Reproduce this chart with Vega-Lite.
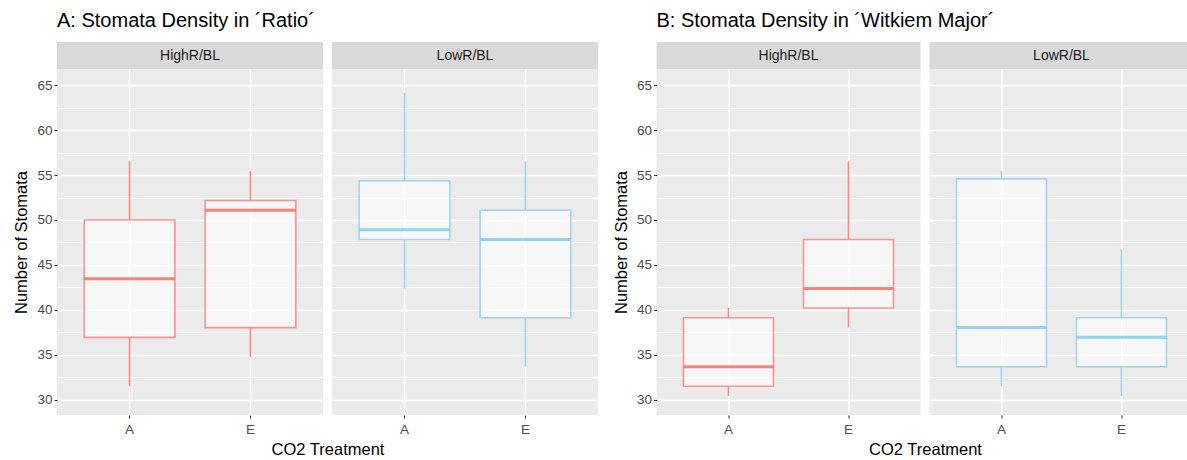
{
  "$schema": "https://vega.github.io/schema/vega-lite/v6.json",
  "background": "white",
  "padding": {"left": 13, "top": 11, "right": 0, "bottom": 0},
  "datasets": {
    "boxes": [
      {"chart": "A", "panel": "HighR/BL", "co2": "A", "lo": 31.52, "q1": 36.96, "med": 43.48, "q3": 50.0, "hi": 56.52},
      {"chart": "A", "panel": "HighR/BL", "co2": "E", "lo": 34.78, "q1": 38.04, "med": 51.09, "q3": 52.17, "hi": 55.43},
      {"chart": "A", "panel": "LowR/BL", "co2": "A", "lo": 42.39, "q1": 47.83, "med": 48.91, "q3": 54.35, "hi": 64.13},
      {"chart": "A", "panel": "LowR/BL", "co2": "E", "lo": 33.7, "q1": 39.13, "med": 47.83, "q3": 51.09, "hi": 56.52},
      {"chart": "B", "panel": "HighR/BL", "co2": "A", "lo": 30.43, "q1": 31.52, "med": 33.7, "q3": 39.13, "hi": 40.22},
      {"chart": "B", "panel": "HighR/BL", "co2": "E", "lo": 38.04, "q1": 40.22, "med": 42.39, "q3": 47.83, "hi": 56.52},
      {"chart": "B", "panel": "LowR/BL", "co2": "A", "lo": 31.52, "q1": 33.7, "med": 38.04, "q3": 54.57, "hi": 55.43},
      {"chart": "B", "panel": "LowR/BL", "co2": "E", "lo": 30.43, "q1": 33.7, "med": 36.96, "q3": 39.13, "hi": 46.74}
    ]
  },
  "spacing": 14.5,
  "hconcat": [
    {
      "title": {"text": "A: Stomata Density in ´Ratio´"},
      "columns": 2,
      "spacing": {"row": 0, "column": 9},
      "bounds": "flush",
      "concat": [
        {"width": 266, "height": 27, "data": {"values": [{"label": "HighR/BL"}]}, "view": {"fill": "#D9D9D9", "stroke": null},
         "mark": {"type": "text", "font": "Liberation Sans", "fontSize": 14, "color": "#1A1A1A", "baseline": "middle"},
         "encoding": {"text": {"field": "label", "type": "nominal"}}},
        {"width": 266, "height": 27, "data": {"values": [{"label": "LowR/BL"}]}, "view": {"fill": "#D9D9D9", "stroke": null},
         "mark": {"type": "text", "font": "Liberation Sans", "fontSize": 14, "color": "#1A1A1A", "baseline": "middle"},
         "encoding": {"text": {"field": "label", "type": "nominal"}}},
        {
          "width": 266, "height": 346,
          "data": {"name": "boxes"},
          "transform": [{"filter": "datum.chart === 'A' && datum.panel === 'HighR/BL'"}],
          "view": {"fill": "#EBEBEB", "stroke": null},
          "encoding": {"x": {"field": "co2", "type": "nominal", "scale": {"domain": ["A", "E"], "paddingInner": 0.25, "paddingOuter": 0.225},
            "axis": {"title": "CO2 Treatment", "titleX": 270.5, "titleY": 39, "titleBaseline": "alphabetic", "titleAlign": "center", "grid": true, "gridWidth": 1.4, "bandPosition": 0.5, "labelAngle": 0, "labelPadding": 4}}},
          "layer": [
            {"mark": {"type": "rule", "strokeWidth": 1.6, "strokeOpacity": 0.85}, "encoding": {
              "y": {"field": "q3", "type": "quantitative", "scale": {"domain": [28.33, 66.78], "nice": false, "zero": false},
                "axis": {"title": "Number of Stomata", "tickCount": 40, "values": [30, 32.5, 35, 37.5, 40, 42.5, 45, 47.5, 50, 52.5, 55, 57.5, 60, 62.5, 65], "labelOverlap": false, "labelExpr": "datum.value % 5 === 0 ? '' + datum.value : ''", "gridWidth": {"condition": {"test": "datum.value % 5 === 0", "value": 1.4}, "value": 0.8}, "tickOpacity": {"condition": {"test": "datum.value % 5 === 0", "value": 1}, "value": 0}}},
              "y2": {"field": "hi"},
              "color": {"field": "panel", "type": "nominal", "scale": {"domain": ["HighR/BL", "LowR/BL"], "range": ["#F8766D", "#87CEEB"]}, "legend": null}}},
            {"mark": {"type": "rule", "strokeWidth": 1.6, "strokeOpacity": 0.85}, "encoding": {
              "y": {"field": "lo", "type": "quantitative"}, "y2": {"field": "q1"},
              "color": {"field": "panel", "type": "nominal", "legend": null}}},
            {"mark": {"type": "bar", "fill": "#FFFFFF", "fillOpacity": 0.6, "strokeWidth": 1.6, "strokeOpacity": 0.75}, "encoding": {
              "y": {"field": "q1", "type": "quantitative"}, "y2": {"field": "q3"},
              "stroke": {"field": "panel", "type": "nominal", "scale": {"domain": ["HighR/BL", "LowR/BL"], "range": ["#F8766D", "#87CEEB"]}, "legend": null}}},
            {"mark": {"type": "tick", "thickness": 3, "size": 91, "opacity": 0.9}, "encoding": {
              "y": {"field": "med", "type": "quantitative"},
              "color": {"field": "panel", "type": "nominal", "legend": null}}}
          ]
        },
        {
          "width": 266, "height": 346,
          "data": {"name": "boxes"},
          "transform": [{"filter": "datum.chart === 'A' && datum.panel === 'LowR/BL'"}],
          "view": {"fill": "#EBEBEB", "stroke": null},
          "encoding": {"x": {"field": "co2", "type": "nominal", "scale": {"domain": ["A", "E"], "paddingInner": 0.25, "paddingOuter": 0.225},
            "axis": {"title": null, "grid": true, "gridWidth": 1.4, "bandPosition": 0.5, "labelAngle": 0, "labelPadding": 4}}},
          "layer": [
            {"mark": {"type": "rule", "strokeWidth": 1.6, "strokeOpacity": 0.85}, "encoding": {
              "y": {"field": "q3", "type": "quantitative", "scale": {"domain": [28.33, 66.78], "nice": false, "zero": false},
                "axis": {"title": null, "labels": false, "ticks": false, "tickCount": 40, "values": [30, 32.5, 35, 37.5, 40, 42.5, 45, 47.5, 50, 52.5, 55, 57.5, 60, 62.5, 65], "gridWidth": {"condition": {"test": "datum.value % 5 === 0", "value": 1.4}, "value": 0.8}}},
              "y2": {"field": "hi"},
              "color": {"field": "panel", "type": "nominal", "scale": {"domain": ["HighR/BL", "LowR/BL"], "range": ["#F8766D", "#87CEEB"]}, "legend": null}}},
            {"mark": {"type": "rule", "strokeWidth": 1.6, "strokeOpacity": 0.85}, "encoding": {
              "y": {"field": "lo", "type": "quantitative"}, "y2": {"field": "q1"},
              "color": {"field": "panel", "type": "nominal", "legend": null}}},
            {"mark": {"type": "bar", "fill": "#FFFFFF", "fillOpacity": 0.6, "strokeWidth": 1.6, "strokeOpacity": 0.75}, "encoding": {
              "y": {"field": "q1", "type": "quantitative"}, "y2": {"field": "q3"},
              "stroke": {"field": "panel", "type": "nominal", "scale": {"domain": ["HighR/BL", "LowR/BL"], "range": ["#F8766D", "#87CEEB"]}, "legend": null}}},
            {"mark": {"type": "tick", "thickness": 3, "size": 91, "opacity": 0.9}, "encoding": {
              "y": {"field": "med", "type": "quantitative"},
              "color": {"field": "panel", "type": "nominal", "legend": null}}}
          ]
        }
      ]
    },
    {
      "title": {"text": "B: Stomata Density in ´Witkiem Major´"},
      "columns": 2,
      "spacing": {"row": 0, "column": 9},
      "bounds": "flush",
      "concat": [
        {"width": 264, "height": 27, "data": {"values": [{"label": "HighR/BL"}]}, "view": {"fill": "#D9D9D9", "stroke": null},
         "mark": {"type": "text", "font": "Liberation Sans", "fontSize": 14, "color": "#1A1A1A", "baseline": "middle"},
         "encoding": {"text": {"field": "label", "type": "nominal"}}},
        {"width": 258, "height": 27, "data": {"values": [{"label": "LowR/BL"}]}, "view": {"fill": "#D9D9D9", "stroke": null},
         "mark": {"type": "text", "font": "Liberation Sans", "fontSize": 14, "color": "#1A1A1A", "baseline": "middle", "dx": 3},
         "encoding": {"text": {"field": "label", "type": "nominal"}}},
        {
          "width": 264, "height": 346,
          "data": {"name": "boxes"},
          "transform": [{"filter": "datum.chart === 'B' && datum.panel === 'HighR/BL'"}],
          "view": {"fill": "#EBEBEB", "stroke": null},
          "encoding": {"x": {"field": "co2", "type": "nominal", "scale": {"domain": ["A", "E"], "paddingInner": 0.25, "paddingOuter": 0.225},
            "axis": {"title": "CO2 Treatment", "titleX": 268.5, "titleY": 39, "titleBaseline": "alphabetic", "titleAlign": "center", "grid": true, "gridWidth": 1.4, "bandPosition": 0.5, "labelAngle": 0, "labelPadding": 4}}},
          "layer": [
            {"mark": {"type": "rule", "strokeWidth": 1.6, "strokeOpacity": 0.85}, "encoding": {
              "y": {"field": "q3", "type": "quantitative", "scale": {"domain": [28.33, 66.78], "nice": false, "zero": false},
                "axis": {"title": "Number of Stomata", "tickCount": 40, "values": [30, 32.5, 35, 37.5, 40, 42.5, 45, 47.5, 50, 52.5, 55, 57.5, 60, 62.5, 65], "labelOverlap": false, "labelExpr": "datum.value % 5 === 0 ? '' + datum.value : ''", "gridWidth": {"condition": {"test": "datum.value % 5 === 0", "value": 1.4}, "value": 0.8}, "tickOpacity": {"condition": {"test": "datum.value % 5 === 0", "value": 1}, "value": 0}}},
              "y2": {"field": "hi"},
              "color": {"field": "panel", "type": "nominal", "scale": {"domain": ["HighR/BL", "LowR/BL"], "range": ["#F8766D", "#87CEEB"]}, "legend": null}}},
            {"mark": {"type": "rule", "strokeWidth": 1.6, "strokeOpacity": 0.85}, "encoding": {
              "y": {"field": "lo", "type": "quantitative"}, "y2": {"field": "q1"},
              "color": {"field": "panel", "type": "nominal", "legend": null}}},
            {"mark": {"type": "bar", "fill": "#FFFFFF", "fillOpacity": 0.6, "strokeWidth": 1.6, "strokeOpacity": 0.75}, "encoding": {
              "y": {"field": "q1", "type": "quantitative"}, "y2": {"field": "q3"},
              "stroke": {"field": "panel", "type": "nominal", "scale": {"domain": ["HighR/BL", "LowR/BL"], "range": ["#F8766D", "#87CEEB"]}, "legend": null}}},
            {"mark": {"type": "tick", "thickness": 3, "size": 90, "opacity": 0.9}, "encoding": {
              "y": {"field": "med", "type": "quantitative"},
              "color": {"field": "panel", "type": "nominal", "legend": null}}}
          ]
        },
        {
          "width": 258, "height": 346,
          "data": {"name": "boxes"},
          "transform": [{"filter": "datum.chart === 'B' && datum.panel === 'LowR/BL'"}],
          "view": {"fill": "#EBEBEB", "stroke": null},
          "encoding": {"x": {"field": "co2", "type": "nominal", "scale": {"domain": ["A", "E"], "paddingInner": 0.25, "paddingOuter": 0.2, "align": 0.5625},
            "axis": {"title": null, "grid": true, "gridWidth": 1.4, "bandPosition": 0.5, "labelAngle": 0, "labelPadding": 4}}},
          "layer": [
            {"mark": {"type": "rule", "strokeWidth": 1.6, "strokeOpacity": 0.85}, "encoding": {
              "y": {"field": "q3", "type": "quantitative", "scale": {"domain": [28.33, 66.78], "nice": false, "zero": false},
                "axis": {"title": null, "labels": false, "ticks": false, "tickCount": 40, "values": [30, 32.5, 35, 37.5, 40, 42.5, 45, 47.5, 50, 52.5, 55, 57.5, 60, 62.5, 65], "gridWidth": {"condition": {"test": "datum.value % 5 === 0", "value": 1.4}, "value": 0.8}}},
              "y2": {"field": "hi"},
              "color": {"field": "panel", "type": "nominal", "scale": {"domain": ["HighR/BL", "LowR/BL"], "range": ["#F8766D", "#87CEEB"]}, "legend": null}}},
            {"mark": {"type": "rule", "strokeWidth": 1.6, "strokeOpacity": 0.85}, "encoding": {
              "y": {"field": "lo", "type": "quantitative"}, "y2": {"field": "q1"},
              "color": {"field": "panel", "type": "nominal", "legend": null}}},
            {"mark": {"type": "bar", "fill": "#FFFFFF", "fillOpacity": 0.6, "strokeWidth": 1.6, "strokeOpacity": 0.75}, "encoding": {
              "y": {"field": "q1", "type": "quantitative"}, "y2": {"field": "q3"},
              "stroke": {"field": "panel", "type": "nominal", "scale": {"domain": ["HighR/BL", "LowR/BL"], "range": ["#F8766D", "#87CEEB"]}, "legend": null}}},
            {"mark": {"type": "tick", "thickness": 3, "size": 90, "opacity": 0.9}, "encoding": {
              "y": {"field": "med", "type": "quantitative"},
              "color": {"field": "panel", "type": "nominal", "legend": null}}}
          ]
        }
      ]
    }
  ],
  "config": {
    "title": {"font": "Liberation Sans", "fontSize": 20, "fontWeight": "normal", "color": "#000000", "anchor": "start", "frame": "group", "offset": 11},
    "axis": {"domain": false, "gridColor": "#FFFFFF", "tickColor": "#333333", "tickSize": 3, "tickWidth": 1.1, "labelColor": "#4D4D4D", "labelFont": "Liberation Sans", "labelFontSize": 13.5, "labelPadding": 2, "titleFont": "Liberation Sans", "titleFontSize": 16.5, "titleFontWeight": "normal", "titleColor": "#000000", "titlePadding": 7}
  }
}
